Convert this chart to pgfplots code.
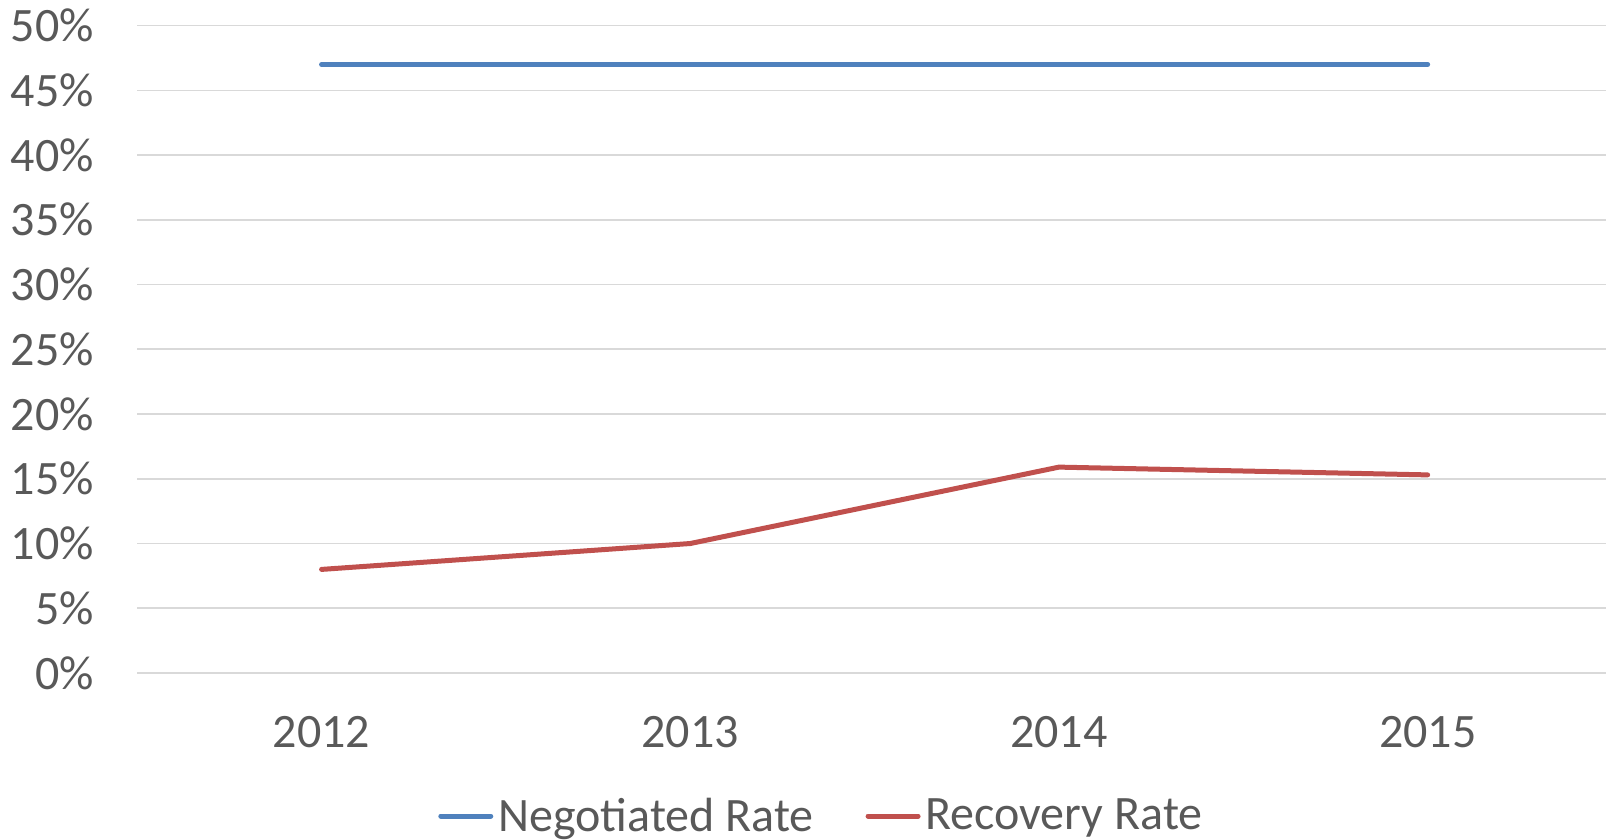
\documentclass[border=0pt]{standalone}
\usepackage{pgfplots}
\pgfplotsset{compat=1.18}
\usepackage{fontspec}
\setmainfont{Carlito}
\definecolor{txt}{HTML}{595959}
\definecolor{grid}{HTML}{D9D9D9}
\definecolor{sblue}{HTML}{4F81BD}
\definecolor{sred}{HTML}{C0504D}
\begin{document}
\begin{tikzpicture}
\begin{axis}[
  scale only axis,
  width=737.4pt, height=323.7pt,
  xmin=-0.5, xmax=3.5,
  ymin=0, ymax=50,
  axis line style={draw=none},
  major tick length=0pt,
  xtick={0,1,2,3},
  xticklabels={2012,2013,2014,2015},
  ytick={0,5,...,50},
  yticklabels={0\%,5\%,10\%,15\%,20\%,25\%,30\%,35\%,40\%,45\%,50\%},
  /pgf/number format/assume math mode=true,
  ymajorgrids,
  major grid style={draw=grid, line width=0.8pt},
  ticklabel style={font=\fontsize{24}{28}\selectfont, text=txt, inner sep=0pt},
  yticklabel style={anchor=east, xshift=-21.5pt},
  xticklabel style={anchor=north, yshift=-21.5pt},
  legend style={at={(0.4649,-0.2209)}, anchor=center, draw=none, fill=none,
     font=\fontsize{24}{28}\selectfont, text=txt,
     nodes={inner sep=2.5pt},
     /tikz/every even column/.append style={column sep=23.5pt}},
  legend columns=2,
  legend image code/.code={\draw[#1, line cap=round] (0pt,0pt) -- (25pt,0pt);},
]
\addplot[sblue, line width=2.5pt, line cap=round, line join=round] coordinates {(0,47) (1,47) (2,47) (3,47)};
\addlegendentry{Negotiated Rate}
\addplot[sred, line width=2.5pt, line cap=round, line join=round] coordinates {(0,8.0) (1,10.0) (2,15.9) (3,15.3)};
\addlegendentry{Recovery Rate}
\end{axis}
\pgfresetboundingbox
\path (-68.6pt,-83.5pt) rectangle (734.4pt,336.5pt);
\end{tikzpicture}
\end{document}
